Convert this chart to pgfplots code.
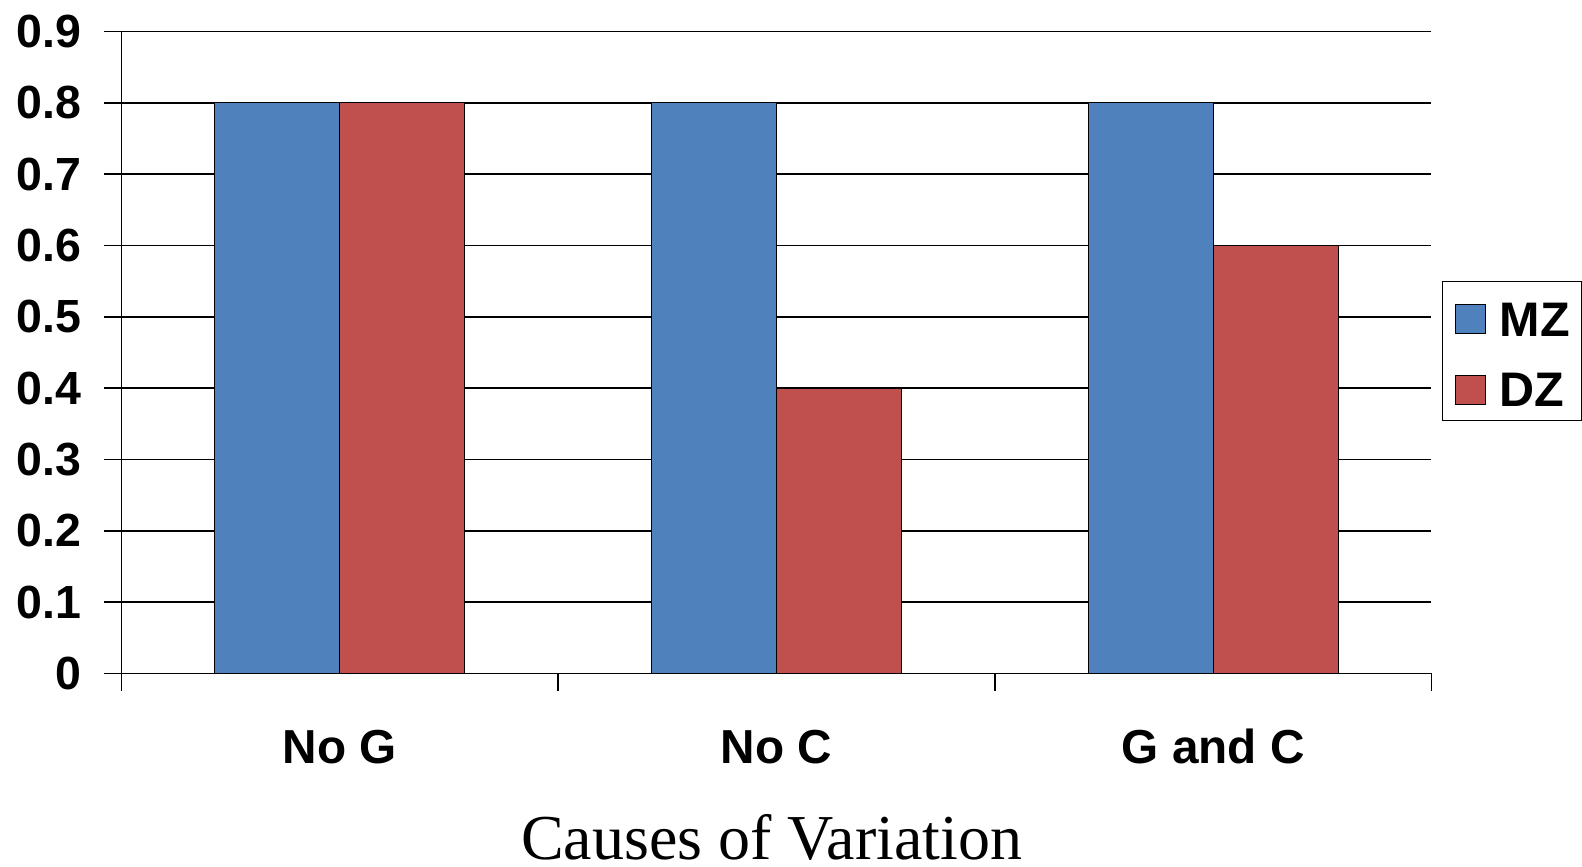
\documentclass[border=0pt]{standalone}
\usepackage{pgfplots}
\pgfplotsset{compat=1.18}
\usepackage{fontspec}
\setmainfont{Liberation Sans}
\newfontfamily\timesfont{Liberation Serif}
\definecolor{mzblue}{HTML}{4F81BD}
\definecolor{dzred}{HTML}{C0504D}
\pgfplotsset{sqlegend/.style={legend image code/.code={\draw[##1,draw=black,line width=1.3pt] (0pt,-18pt) rectangle (30pt,11pt);}}}
\begin{document}
\begin{tikzpicture}[x=1pt,y=1pt]
\begin{axis}[
  at={(121.5pt,193.5pt)}, anchor=south west,
  scale only axis, width=1310pt, height=642pt,
  xmin=-0.5, xmax=2.5, ymin=0, ymax=0.9,
  axis x line*=bottom, axis y line*=left,
  axis line style={line width=1.7pt,-},
  tick style={black, line width=1.7pt},
  tick align=outside, major tick length=17.2pt, minor tick length=17.5pt,
  xtick={0,1,2}, xticklabels={No G,No C,G and C},
  major x tick style={draw=none},
  minor xtick={-0.5,0.5,1.5,2.5},
  ytick={0,0.1,0.2,0.3,0.4,0.5,0.6,0.7,0.8,0.9},
  yticklabels={0,0.1,0.2,0.3,0.4,0.5,0.6,0.7,0.8,0.9},
  ymajorgrids, major grid style={black, line width=1.7pt},
  yticklabel style={font=\bfseries\fontsize{46.5pt}{46.5pt}\selectfont, inner sep=0pt, anchor=east, xshift=-22.8pt},
  xticklabel style={font=\bfseries\fontsize{47.7pt}{47.7pt}\selectfont, inner sep=0pt, anchor=base, yshift=-73pt},
  xlabel={\timesfont\fontsize{64pt}{64pt}\selectfont Causes of Variation},
  xlabel style={at={(axis description cs:0.4964,-0.2895)}, anchor=base, inner sep=0pt},
  ybar=0pt, bar width=125pt,
  every axis plot post/.append style={sqlegend},
  legend style={at={(1.0078,0.6118)}, anchor=north west, draw=black, line width=1.6pt, fill=white,
    inner xsep=12pt, inner ysep=13.7pt, row sep=29.6pt, column sep=14pt,
    font=\bfseries\fontsize{48.5pt}{48.5pt}\selectfont,
    nodes={inner sep=0pt, text height=41pt, text depth=0pt}},
  legend cell align=left,
]
\addplot[fill=mzblue, draw=black, line width=1.3pt] coordinates {(0,0.8) (1,0.8) (2,0.8)};
\addplot[fill=dzred, draw=black, line width=1.3pt] coordinates {(0,0.8) (1,0.4) (2,0.6)};
\legend{MZ,DZ}
\end{axis}
\pgfresetboundingbox
\path (0,0) rectangle (1582,867);
\end{tikzpicture}
\end{document}
